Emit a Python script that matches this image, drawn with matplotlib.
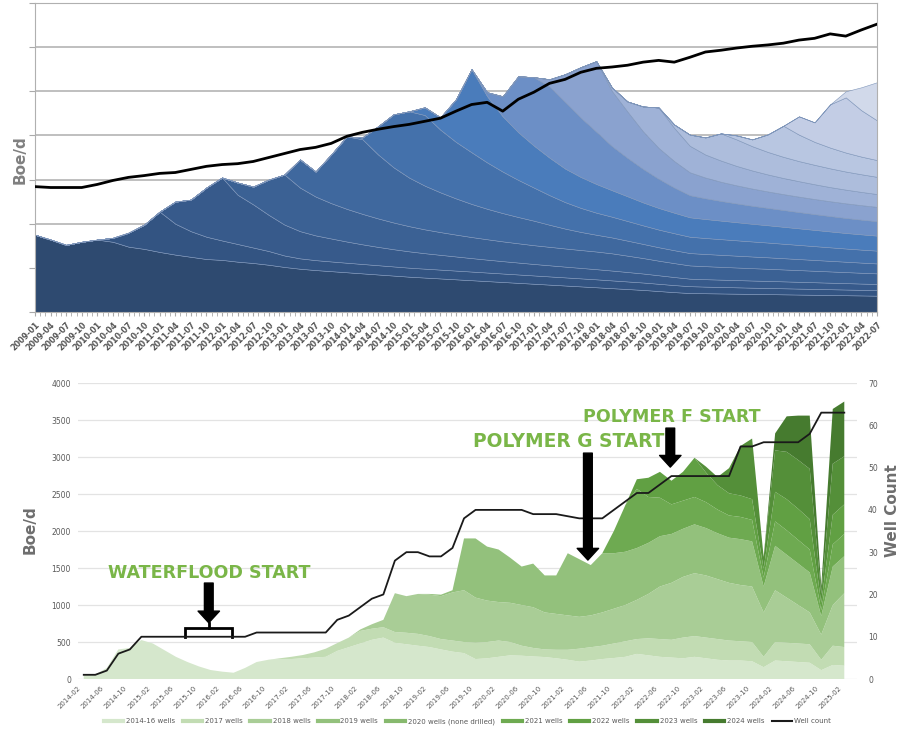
import matplotlib.pyplot as plt
import numpy as np
from matplotlib.lines import Line2D

plt.rcParams['font.family'] = 'DejaVu Sans'

# ---------------- top chart: quarterly points, 2009-01 .. 2022-07 ----------------
top_labels = ["%d-%02d" % (y, m) for y in range(2009, 2023) for m in (1, 4, 7, 10)][:55]

# Boe/d by vintage; every list ends at 2022-07 and starts at its vintage's first quarter
top_base = [1750, 1640, 1520, 1590, 1640, 1590, 1480, 1430, 1360, 1300,
            1250, 1200, 1180, 1140, 1110, 1070, 1020, 980, 950, 925,
            900, 875, 850, 825, 800, 780, 760, 740, 720, 700,
            680, 660, 640, 620, 600, 580, 560, 540, 520, 500,
            475, 450, 430, 425, 420, 415, 410, 405, 400, 395,
            390, 385, 380, 375, 370]
top_2010 = [0, 90, 316, 547, 913, 700, 580, 505, 440, 400, 350, 310, 260, 235, 225,
            220, 216, 213, 210, 207, 204, 202, 200, 198, 196, 194, 192, 190, 188, 186,
            184, 182, 180, 176, 172, 168, 164, 160, 155, 150, 147, 144, 141, 139, 137,
            135, 133, 131, 129, 127, 125]
top_2011 = [0, 500, 716, 1114, 1426, 1115, 977, 818, 700, 616, 560, 520, 480, 445, 415,
            390, 370, 350, 335, 320, 305, 292, 280, 270, 260, 252, 244, 237, 230, 223,
            214, 204, 193, 182, 170, 168, 166, 164, 162, 160, 157, 154, 151, 148, 145,
            142, 140]
top_2012 = [0, 277, 404, 802, 1134, 987, 880, 800, 740, 690, 645, 605, 570, 540, 515,
            495, 477, 462, 448, 436, 425, 418, 411, 405, 400, 390, 370, 350, 330, 315,
            300, 295, 290, 285, 280, 275, 270, 265, 260, 255, 250, 245, 240]
top_2013 = [0, 637, 567, 1104, 1642, 1690, 1450, 1250, 1100, 990, 900, 820, 750, 690, 640,
            595, 555, 500, 450, 410, 380, 360, 340, 320, 305, 292, 280, 276, 272, 268,
            264, 260, 255, 250, 245, 240, 235, 230, 225]
top_2014 = [0, 42, 635, 1201, 1502, 1600, 1420, 1280, 1170, 1050, 940, 840, 750, 670, 600,
            545, 500, 470, 445, 420, 400, 385, 370, 362, 355, 348, 341, 334, 327, 320,
            313, 306, 299, 294, 290]
top_2015 = [0, 175, 280, 966, 1882, 1500, 1250, 1080, 950, 850, 760, 700, 650, 600, 560,
            520, 490, 465, 440, 430, 420, 410, 400, 392, 384, 376, 368, 360, 352, 346, 340]
top_2016 = [0, 90, 457, 1270, 1551, 1612, 1507, 1346, 1185, 1000, 870, 760, 660, 570, 500,
            470, 445, 425, 408, 393, 380, 368, 357, 348, 340, 333, 327]
top_2017 = [0, 165, 631, 1141, 1598, 1250, 1050, 850, 700, 600, 520, 470, 435, 410, 390,
            373, 360, 350, 342, 336, 332, 328, 325]
top_2018 = [0, 78, 228, 564, 916, 750, 600, 520, 480, 440, 410, 385, 365, 350, 335,
            320, 310, 300, 290]
top_2019 = [0, 77, 253, 389, 616, 600, 550, 510, 480, 455, 440, 425, 410, 400, 390]
top_2020 = [0, 91, 154, 397, 704, 600, 520, 470, 430, 400, 380]
top_2021 = [0, 414, 442, 981, 1250, 1050, 900]
top_2022 = [138, 521, 863]

top_wells = [284, 282, 282, 282, 289, 298, 305, 309, 314, 316,
             323, 330, 334, 336, 341, 350, 359, 368, 373, 382,
             398, 407, 414, 420, 425, 432, 439, 455, 470, 475,
             455, 482, 498, 518, 527, 543, 552, 555, 559, 566,
             570, 566, 577, 589, 593, 598, 602, 605, 609, 616,
             620, 630, 625, 639, 652]

top_layers = [top_base, top_2010, top_2011, top_2012, top_2013, top_2014, top_2015,
              top_2016, top_2017, top_2018, top_2019, top_2020, top_2021, top_2022]
top_colors = ['#2e4a70', '#335482', '#375a8b', '#3b6194', '#3f689e', '#4471ab', '#4a7cbb',
              '#6c8fc6', '#8aa2cf', '#9fb2d7', '#adbddc', '#b8c6e1', '#c3cde5', '#d1d9ea']

# ---------------- bottom chart: every other month, 2014-03 .. 2025-03 ----------------
bot_months = list(range(1, 134, 2))      # months after 2014-02
bot_ticks = ["%d-%02d" % (y, m) for y in range(2014, 2026) for m in (2, 6, 10)][:34]

w2014_16 = [54, 60, 150, 400, 420, 527, 480, 390, 300, 230,
            170, 122, 100, 85, 150, 230, 260, 270, 270, 280,
            290, 300, 380, 430, 480, 530, 560, 490, 470, 450,
            432, 400, 370, 350, 270, 280, 300, 320, 315, 305,
            297, 280, 260, 235, 250, 270, 284, 300, 340, 320,
            300, 290, 280, 300, 280, 260, 250, 250, 240, 160,
            250, 240, 230, 220, 120, 190, 180]
w2017 = [10, 30, 44, 70, 110, 106, 130, 170, 150, 140,
         145, 155, 160, 148, 140, 150, 150, 220, 220, 220,
         180, 135, 115, 103, 115, 135, 175, 180, 180, 196,
         210, 200, 230, 240, 240, 280, 280, 280, 280, 270,
         260, 260, 140, 250, 250, 250, 250, 140, 260, 252]
w2018 = [0, 20, 60, 100, 525, 495, 540, 560, 580, 650,
         700, 610, 560, 520, 530, 550, 550, 500, 485, 465,
         430, 430, 450, 470, 490, 530, 600, 710, 770, 820,
         850, 840, 810, 780, 760, 750, 600, 700, 610, 520,
         430, 340, 550, 728]
w2019 = [0, 10, 20, 30, 700, 800, 730, 710, 610, 520,
         590, 500, 520, 840, 780, 680, 800, 750, 720, 700,
         690, 680, 660, 650, 660, 640, 620, 610, 620, 610,
         350, 600, 580, 560, 540, 250, 520, 500]
w2020 = [0] * 10                         # none drilled
w2021 = [0, 300, 630, 800, 620, 520, 400, 380, 370, 350,
         320, 300, 300, 290, 120, 330, 330, 320, 310, 80, 300, 300]
w2022 = [0, 130, 260, 350, 320, 390, 530, 400, 330, 300,
         290, 280, 120, 400, 420, 420, 410, 100, 400, 400]
w2023 = [0, 80, 110, 340, 670, 820, 160, 560, 640, 660, 680, 120, 690, 650]
w2024 = [0, 230, 480, 600, 720, 100, 740, 740]

well_count = [1, 1, 2, 6, 7, 10, 10, 10, 10, 10,
              10, 10, 10, 10, 10, 11, 11, 11, 11, 11,
              11, 11, 14, 15, 17, 19, 20, 28, 30, 30,
              29, 29, 31, 38, 40, 40, 40, 40, 40, 39,
              39, 39, 38.5, 38, 38, 38, 40, 42, 44, 44,
              46, 48, 48, 48, 48, 48, 48, 55, 55, 56,
              56, 56, 56, 58, 63, 63, 63]

bot_layers = [w2014_16, w2017, w2018, w2019, w2020, w2021, w2022, w2023, w2024]
bot_names = ['2014-16 wells', '2017 wells', '2018 wells', '2019 wells',
             '2020 wells (none drilled)', '2021 wells', '2022 wells', '2023 wells',
             '2024 wells']
bot_colors = ['#d5e7cc', '#c2dcb3', '#a9cd96', '#93c17c', '#87b96e',
              '#6eaa51', '#61a043', '#548f39', '#467b2f']

green = '#7ab648'
grey = '#6e6e6e'


def pad(series, n):
    return np.concatenate([np.zeros(n - len(series)), series])


fig = plt.figure(figsize=(9.08, 7.31), dpi=100)

# ---------------- top ----------------
ax1 = fig.add_axes([0.0385, 0.5732, 0.9273, 0.4227])
top_x = np.arange(len(top_labels)) * 3
ax1.stackplot(top_x, [pad(v, len(top_x)) for v in top_layers], colors=top_colors,
              edgecolor='#7f96ba', linewidth=0.4)
ax1.set_xlim(0, 162)
ax1.set_ylim(0, 7000)
ax1.set_yticks(np.arange(0, 7001, 1000))
ax1.set_yticklabels([])
ax1.yaxis.grid(True, color='#b4b4b4', lw=1.2)
ax1.set_axisbelow(True)
ax1.set_xticks(top_x)
ax1.set_xticklabels(top_labels, rotation=45, ha='right', rotation_mode='anchor',
                    fontsize=5.8, fontweight='bold', color='#555555')
ax1.set_xticks(np.arange(0, 163), minor=True)
ax1.tick_params(axis='x', which='both', length=3, color='#aaaaaa', pad=3)
ax1.tick_params(axis='y', length=4, color='#aaaaaa')
for s in ax1.spines.values():
    s.set_color('#b0b0b0')

ax1b = ax1.twinx()
ax1b.plot(top_x, top_wells, color='black', lw=2)
ax1b.set_ylim(0, 700)
ax1b.axis('off')

fig.text(0.022, 0.781, 'Boe/d', rotation=90, ha='center', va='center',
         fontsize=11, fontweight='bold', color='#808080')

# ---------------- bottom ----------------
ax2 = fig.add_axes([0.0859, 0.0711, 0.8579, 0.4049])
ax2.stackplot(bot_months, [pad(v, len(bot_months)) for v in bot_layers],
              colors=bot_colors, linewidth=0)
ax2.set_xlim(0, 135.2)
ax2.set_ylim(0, 4000)
ax2.set_yticks(np.arange(0, 4001, 500))
ax2.tick_params(axis='y', labelsize=5.5, labelcolor='#595959', length=0, pad=5)
ax2.yaxis.grid(True, color='#e3e3e3', lw=0.9)
ax2.set_axisbelow(True)
ax2.set_xticks(np.arange(0, 133, 4))
ax2.set_xticklabels(bot_ticks, rotation=45, ha='right', rotation_mode='anchor',
                    fontsize=5, color='#595959')
ax2.tick_params(axis='x', length=0, pad=4)
for s in ax2.spines.values():
    s.set_visible(False)

ax2r = ax2.twinx()
ax2r.plot(bot_months, well_count, color='#1a1a1a', lw=1.3)
ax2r.set_ylim(0, 70)
ax2r.set_yticks(np.arange(0, 71, 10))
ax2r.tick_params(axis='y', labelsize=5.5, labelcolor='#595959', length=0, pad=8)
for s in ax2r.spines.values():
    s.set_visible(False)

# annotations
arrow = dict(arrowstyle='simple,head_length=0.6,head_width=1.1,tail_width=0.45',
             color='black', shrinkA=0, shrinkB=0, mutation_scale=14)
ax2r.text(22.7, 1432 * 70 / 4000, 'WATERFLOOD START', ha='center', va='center',
          fontsize=12.6, fontweight='bold', color=green)
ax2.annotate('', xy=(22.7, 760), xytext=(22.7, 1297), arrowprops=arrow)
ax2.plot([18.5, 18.5, 26.7, 26.7], [567, 689, 689, 567], color='black', lw=2,
         solid_joinstyle='miter')
ax2.plot([22.7, 22.7], [689, 760], color='black', lw=2)

ax2r.text(85.1, 3215 * 70 / 4000, 'POLYMER G START', ha='center', va='center',
          fontsize=13.4, fontweight='bold', color=green)
ax2r.annotate('', xy=(88.5, 1608 * 70 / 4000), xytext=(88.5, 3053 * 70 / 4000),
              arrowprops=arrow)
ax2r.text(103, 3540 * 70 / 4000, 'POLYMER F START', ha='center', va='center',
          fontsize=12.6, fontweight='bold', color=green)
ax2r.annotate('', xy=(102.8, 2864 * 70 / 4000), xytext=(102.8, 3391 * 70 / 4000),
              arrowprops=arrow)

fig.text(0.033, 0.275, 'Boe/d', rotation=90, ha='center', va='center',
         fontsize=11, fontweight='bold', color=grey)
fig.text(0.983, 0.302, 'Well Count', rotation=90, ha='center', va='center',
         fontsize=11, fontweight='bold', color=grey)

handles = [Line2D([], [], color=c, lw=3) for c in bot_colors]
handles.append(Line2D([], [], color='#1a1a1a', lw=1.5))
fig.legend(handles, bot_names + ['Well count'], loc='center', bbox_to_anchor=(0.515, 0.013),
           ncol=10, fontsize=5, frameon=False, handlelength=2.8, columnspacing=1.1,
           handletextpad=0.4, labelcolor='#595959')

fig.savefig('out.png', dpi=100)
